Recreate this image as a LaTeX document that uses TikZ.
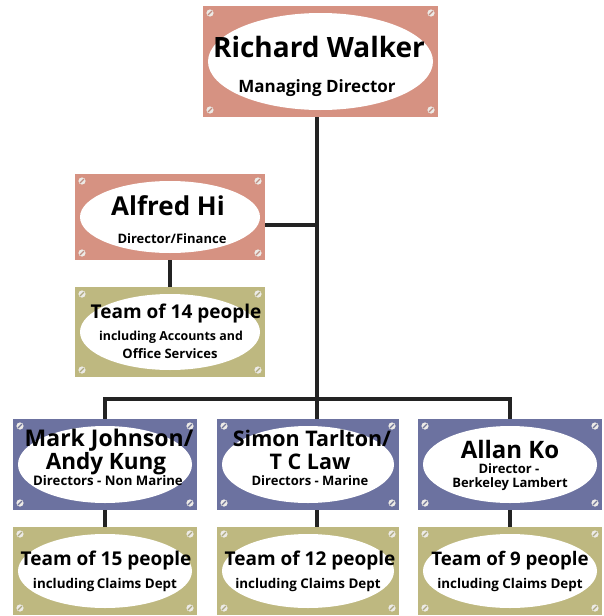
\documentclass[tikz,border=0pt]{standalone}
\usepackage{fontspec}
\setmainfont{Open Sans}
\usetikzlibrary{calc}
\definecolor{pinkplate}{RGB}{214,146,130}
\definecolor{blueplate}{RGB}{108,114,160}
\definecolor{oliveplate}{RGB}{190,184,128}
\definecolor{linecol}{RGB}{35,35,35}
\definecolor{screwfill}{RGB}{236,234,230}
\tikzset{
  plate/.style={rectangle, fill=#1, inner sep=0pt,
    path picture={
      \path let \p1=(path picture bounding box.north east),
                \p2=(path picture bounding box.south west) in
        [fill=white] (\x1/2+\x2/2,\y1/2+\y2/2)
          ellipse [x radius={(\x1-\x2)/2-5pt}, y radius={(\y1-\y2)/2-7pt}];
      \path let \p1=(path picture bounding box.north east),
                \p2=(path picture bounding box.south west) in
        [fill=screwfill]
          (\x2+7pt,\y1-7pt) circle[radius=3.6pt]
          (\x1-7pt,\y1-7pt) circle[radius=3.6pt]
          (\x2+7pt,\y2+7pt) circle[radius=3.6pt]
          (\x1-7pt,\y2+7pt) circle[radius=3.6pt];
      \draw[#1!75!gray, line width=1.1pt] let \p1=(path picture bounding box.north east),
                \p2=(path picture bounding box.south west) in
          (\x2+5pt,\y1-9pt) -- (\x2+9pt,\y1-5pt)
          (\x1-9pt,\y1-9pt) -- (\x1-5pt,\y1-5pt)
          (\x2+5pt,\y2+5pt) -- (\x2+9pt,\y2+9pt)
          (\x1-9pt,\y2+5pt) -- (\x1-5pt,\y2+9pt);
    }},
  pinkbox/.style={plate=pinkplate},
  bluebox/.style={plate=blueplate, minimum width=184pt, minimum height=91pt},
  olivebox/.style={plate=oliveplate},
  teambox/.style={plate=oliveplate, minimum width=184pt, minimum height=88pt},
  txt/.style={anchor=base, inner sep=0pt, font=\fontsize{#1}{#1}\selectfont\bfseries},
  conn/.style={draw=linecol, line width=4pt},
}
\begin{document}
\begin{tikzpicture}[x=1pt, y=-1pt]
\useasboundingbox (0,0) rectangle (604,616);
% plates
\node[pinkbox, minimum width=235pt, minimum height=111pt] (rw) at (320.5,61.5) {};
\node[pinkbox, minimum width=190pt, minimum height=86pt] (ah) at (170,217) {};
\node[olivebox, minimum width=190pt, minimum height=90pt] (t14) at (170,332) {};
\node[bluebox] (mj) at (105,464.5) {};
\node[bluebox, minimum width=182pt] (st) at (308,464.5) {};
\node[bluebox] (ak) at (510,464.5) {};
\node[teambox] (t15) at (105,571) {};
\node[teambox, minimum width=182pt] (t12) at (308,571) {};
\node[teambox] (t9) at (510,571) {};
% texts
\node[txt=28] (rwa) at (319,57) {Richard Walker};
\node[txt=17] (rwb) at (317,92) {Managing Director};
\node[txt=26] (aha) at (168,215) {Alfred Hi};
\node[txt=13] (ahb) at (172,243) {Director/Finance};
\node[txt=19] (t14a) at (176,318) {Team of 14 people};
\node[txt=12.4] (t14b) at (171,340) {including Accounts and};
\node[txt=13] (t14c) at (170,358) {Office Services};
\node[txt=23] (mja) at (109,446) {Mark Johnson/};
\node[txt=22.5] (mjb) at (106,469.5) {Andy Kung};
\node[txt=13.2] (mjc) at (108,485) {Directors - Non Marine};
\node[txt=21.5] (sta) at (312,446) {Simon Tarlton/};
\node[txt=21.5] (stb) at (310,469.5) {T C Law};
\node[txt=13] (stc) at (310,485) {Directors - Marine};
\node[txt=24] (aka) at (510,458) {Allan Ko};
\node[txt=13] (akb) at (509,473) {Director -};
\node[txt=13] (akc) at (510,487) {Berkeley Lambert};
\node[txt=19] (t15a) at (106,565) {Team of 15 people};
\node[txt=13.4] (t15b) at (105,588) {including\,Claims Dept};
\node[txt=19] (t12a) at (310,565) {Team of 12 people};
\node[txt=13.4] (t12b) at (308,588) {including Claims Dept};
\node[txt=18.7] (t9a) at (510,565) {Team of 9 people};
\node[txt=13.4] (t9b) at (510,588) {including Claims Dept};
% connectors
\coordinate (j1) at (317,225);
\coordinate (j2) at (317,399);
\draw[conn] (rw.south -| j1) -- (st.north -| j1);
\draw[conn] (ah.east |- j1) -- (j1);
\draw[conn] (ah.south) -- (t14.north);
\draw[conn] (mj.north) -- (mj.north |- j2) -- (ak.north |- j2) -- (ak.north);
\draw[conn] (mj.south) -- (t15.north);
\draw[conn] (st.south -| j1) -- (t12.north -| j1);
\draw[conn] (ak.south) -- (t9.north);
\end{tikzpicture}
\end{document}
